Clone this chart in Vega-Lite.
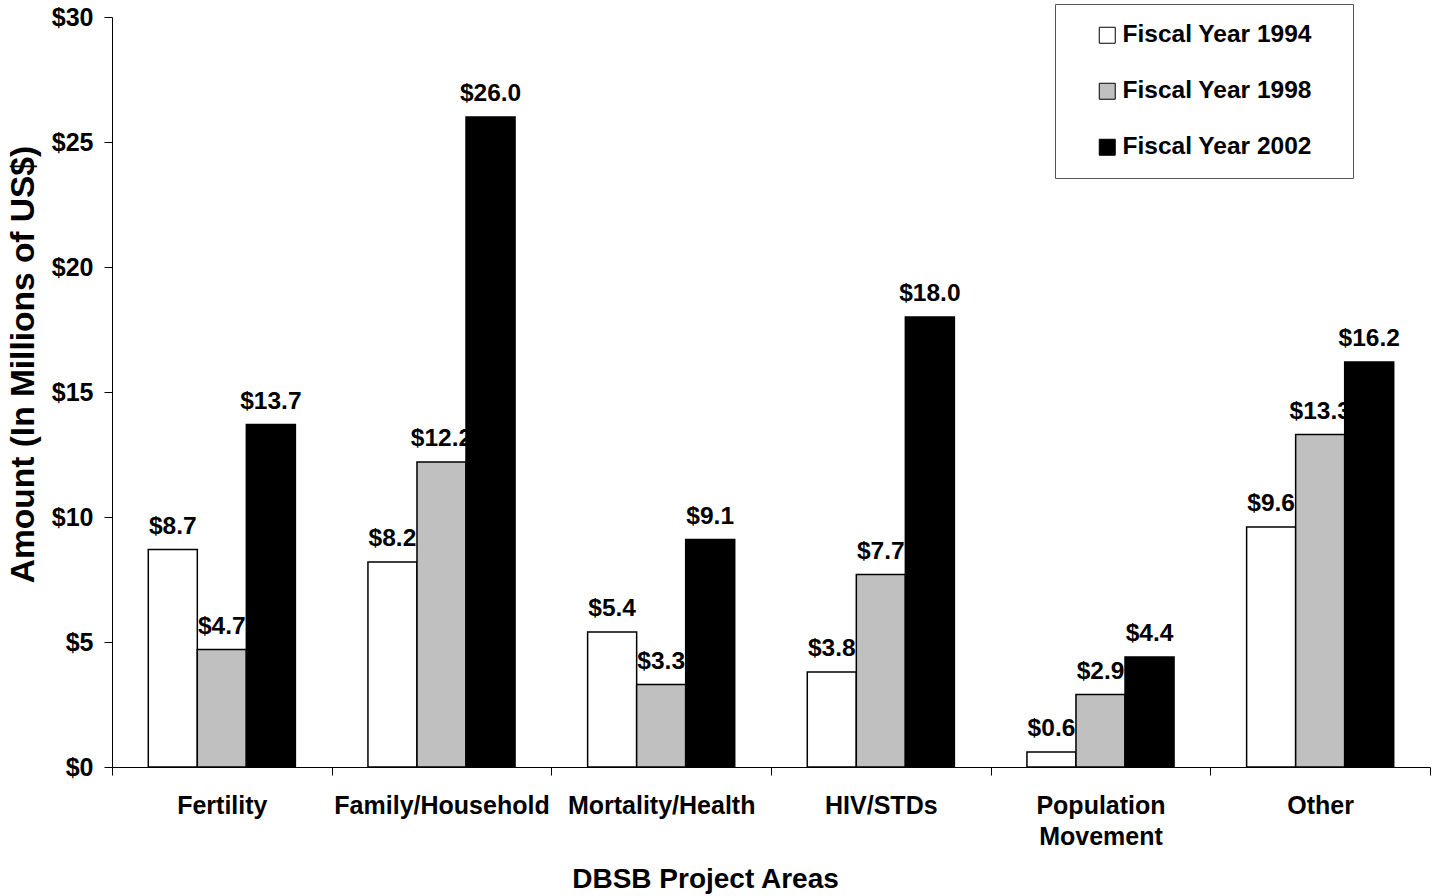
{
  "$schema": "https://vega.github.io/schema/vega-lite/v6.json",
  "autosize": "none",
  "width": 1318,
  "height": 750,
  "padding": {"left": 112, "top": 17, "right": 5, "bottom": 129},
  "background": "white",
  "config": {
    "view": {"stroke": null},
    "font": "Liberation Sans",
    "axis": {"labelFont": "Liberation Sans", "titleFont": "Liberation Sans", "labelFontWeight": "bold", "titleFontWeight": "bold", "labelColor": "black", "titleColor": "black", "domainColor": "black", "tickColor": "black", "grid": false}
  },
  "data": {
    "values": [
      {"area": "Fertility", "year": "Fiscal Year 1994", "amount": 8.7},
      {"area": "Fertility", "year": "Fiscal Year 1998", "amount": 4.7},
      {"area": "Fertility", "year": "Fiscal Year 2002", "amount": 13.7},
      {"area": "Family/Household", "year": "Fiscal Year 1994", "amount": 8.2},
      {"area": "Family/Household", "year": "Fiscal Year 1998", "amount": 12.2},
      {"area": "Family/Household", "year": "Fiscal Year 2002", "amount": 26.0},
      {"area": "Mortality/Health", "year": "Fiscal Year 1994", "amount": 5.4},
      {"area": "Mortality/Health", "year": "Fiscal Year 1998", "amount": 3.3},
      {"area": "Mortality/Health", "year": "Fiscal Year 2002", "amount": 9.1},
      {"area": "HIV/STDs", "year": "Fiscal Year 1994", "amount": 3.8},
      {"area": "HIV/STDs", "year": "Fiscal Year 1998", "amount": 7.7},
      {"area": "HIV/STDs", "year": "Fiscal Year 2002", "amount": 18.0},
      {"area": "Population Movement", "year": "Fiscal Year 1994", "amount": 0.6},
      {"area": "Population Movement", "year": "Fiscal Year 1998", "amount": 2.9},
      {"area": "Population Movement", "year": "Fiscal Year 2002", "amount": 4.4},
      {"area": "Other", "year": "Fiscal Year 1994", "amount": 9.6},
      {"area": "Other", "year": "Fiscal Year 1998", "amount": 13.3},
      {"area": "Other", "year": "Fiscal Year 2002", "amount": 16.2}
    ]
  },
  "encoding": {
    "x": {
      "field": "area", "type": "nominal", "sort": null,
      "scale": {"paddingInner": 0, "paddingOuter": 0},
      "axis": {
        "title": "DBSB Project Areas", "titleFontSize": 28, "titlePadding": 16, "titleX": 593,
        "labelAngle": 0, "labelFontSize": 25, "labelPadding": 18, "labelLineHeight": 31,
        "labelBaseline": "top", "labelLimit": 400,
        "labelExpr": "datum.value == 'Population Movement' ? ['Population', 'Movement'] : datum.value",
        "tickBand": "extent", "tickSize": 8, "domainWidth": 1, "tickWidth": 1
      }
    },
    "xOffset": {"field": "year", "type": "nominal", "scale": {"paddingInner": 0, "paddingOuter": 0.74}},
    "y": {
      "field": "amount", "type": "quantitative",
      "scale": {"domain": [0, 30], "nice": false},
      "axis": {
        "title": "Amount (In Millions of US$)", "titleFontSize": 33.5, "titlePadding": 11, "titleY": 347,
        "values": [0, 5, 10, 15, 20, 25, 30], "format": "$.0f",
        "labelFontSize": 25, "labelPadding": 11, "tickSize": 8, "domainWidth": 1, "tickWidth": 1
      }
    }
  },
  "layer": [
    {
      "mark": {"type": "bar", "stroke": "black", "strokeWidth": 1.5},
      "encoding": {
        "fill": {
          "field": "year", "type": "nominal",
          "scale": {"domain": ["Fiscal Year 1994", "Fiscal Year 1998", "Fiscal Year 2002"], "range": ["#FFFFFF", "#C0C0C0", "#000000"]},
          "legend": {
            "title": "\u00a0", "titleOrient": "right", "titlePadding": 22, "titleFontSize": 24, "titleColor": "white",
            "orient": "none", "legendX": 943, "legendY": -13,
            "padding": 19, "strokeColor": "#555555", "fillColor": "white",
            "symbolType": "square", "symbolSize": 256, "symbolStrokeColor": "black", "symbolStrokeWidth": 1,
            "symbolOffset": 21, "labelOffset": 3,
            "labelFont": "Liberation Sans", "labelFontSize": 24.5, "labelFontWeight": "bold", "labelColor": "black",
            "rowPadding": 31, "labelLimit": 400
          }
        }
      }
    },
    {
      "mark": {"type": "text", "baseline": "alphabetic", "dy": -16, "fontSize": 24.5, "fontWeight": "bold", "font": "Liberation Sans", "color": "black"},
      "encoding": {
        "text": {"field": "amount", "type": "quantitative", "format": "$.1f"}
      }
    }
  ]
}
